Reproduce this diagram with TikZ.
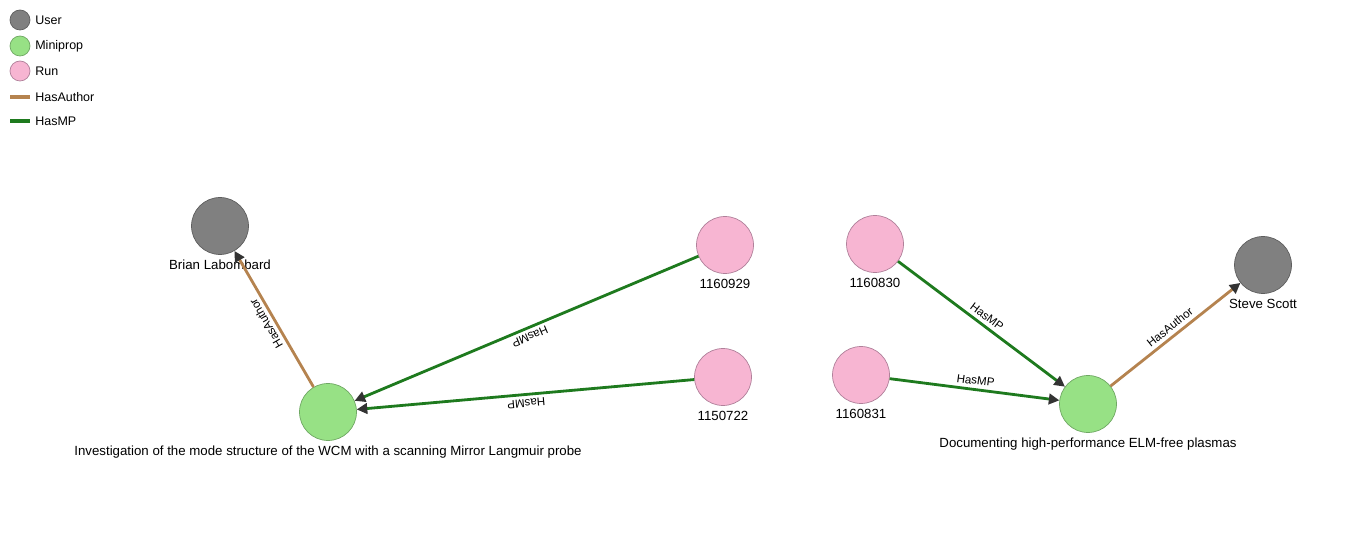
\documentclass[tikz,border=0pt]{standalone}
\usepackage{fontspec}
\setmainfont{Liberation Sans}
\usepackage{xcolor}
\usetikzlibrary{arrows.meta}
\definecolor{usergray}{HTML}{808080}
\definecolor{userline}{HTML}{5E5E5E}
\definecolor{mpgreen}{HTML}{97E185}
\definecolor{mpline}{HTML}{6FA863}
\definecolor{runpink}{HTML}{F7B5D2}
\definecolor{runline}{HTML}{B0809A}
\definecolor{authorbrown}{HTML}{B5834F}
\definecolor{mpedge}{HTML}{1E7A1E}
\definecolor{tipgray}{HTML}{333333}
\tikzset{
	vertex/.style={circle, draw, minimum size=1.14cm, inner sep=0pt,
			label={[font=\fontsize{7.55}{9}\selectfont, label distance=-0.5pt]below:#1}},
	user/.style={vertex={#1}, fill=usergray, draw=userline},
	miniprop/.style={vertex={#1}, fill=mpgreen, draw=mpline},
	run/.style={vertex={#1}, fill=runpink, draw=runline},
	keybox/.style={circle, draw, minimum size=0.4cm, inner sep=0pt},
	keytext/.style={anchor=west, font=\fontsize{7.1}{8}\selectfont, inner sep=0pt},
	hasauthor/.style={color=authorbrown, line width=1.6pt,
			-{Triangle[length=6pt,width=6pt,color=tipgray]}},
	hasmp/.style={color=mpedge, line width=1.6pt,
			-{Triangle[length=6pt,width=6pt,color=tipgray]}},
	elabel/.style={sloped, allow upside down, above, text=black, inner sep=2pt,
			font=\fontsize{6.6}{7.5}\selectfont}
}

\begin{document}
\begin{tikzpicture}[x=0.02cm, y=-0.02cm]
		\useasboundingbox (0,0) rectangle (1356,550);
		% legend
		\node [keybox, fill=usergray, draw=userline] (kuser) at (20,20) {};
		\node [keytext] (tuser) at (35,20) {User};
		\node [keybox, fill=mpgreen, draw=mpline] (kmp) at (20,46) {};
		\node [keytext] (tmp) at (35,46) {Miniprop};
		\node [keybox, fill=runpink, draw=runline] (krun) at (20,71) {};
		\node [keytext] (trun) at (35,71) {Run};
		\coordinate (ka1) at (10,97);
		\coordinate (ka2) at (30,97);
		\draw [color=authorbrown, line width=2.2pt] (ka1) -- (ka2);
		\node [keytext] (tauthor) at (35,97) {HasAuthor};
		\coordinate (km1) at (10,121);
		\coordinate (km2) at (30,121);
		\draw [color=mpedge, line width=2.2pt] (km1) -- (km2);
		\node [keytext] (thasmp) at (35,121) {HasMP};
		% nodes
		\node [user={Brian Labombard}] (brian) at (220,226) {};
		\node [user={Steve Scott}] (steve) at (1263,265) {};
		\node [miniprop={Investigation of the mode structure of the WCM with a scanning Mirror Langmuir probe}] (wcm) at (328,412) {};
		\node [miniprop={Documenting high-performance ELM-free plasmas}] (elm) at (1088,404) {};
		\node [run={1160929}] (r1160929) at (725,245) {};
		\node [run={1150722}] (r1150722) at (723,377) {};
		\node [run={1160830}] (r1160830) at (875,244) {};
		\node [run={1160831}] (r1160831) at (861,375) {};
		% edges
		\draw [hasauthor] (wcm) -- node [elabel] {HasAuthor} (brian);
		\draw [hasauthor] (elm) -- node [elabel] {HasAuthor} (steve);
		\draw [hasmp] (r1160929) -- node [elabel] {HasMP} (wcm);
		\draw [hasmp] (r1150722) -- node [elabel] {HasMP} (wcm);
		\draw [hasmp] (r1160830) -- node [elabel] {HasMP} (elm);
		\draw [hasmp] (r1160831) -- node [elabel] {HasMP} (elm);
	\end{tikzpicture}
\end{document}
